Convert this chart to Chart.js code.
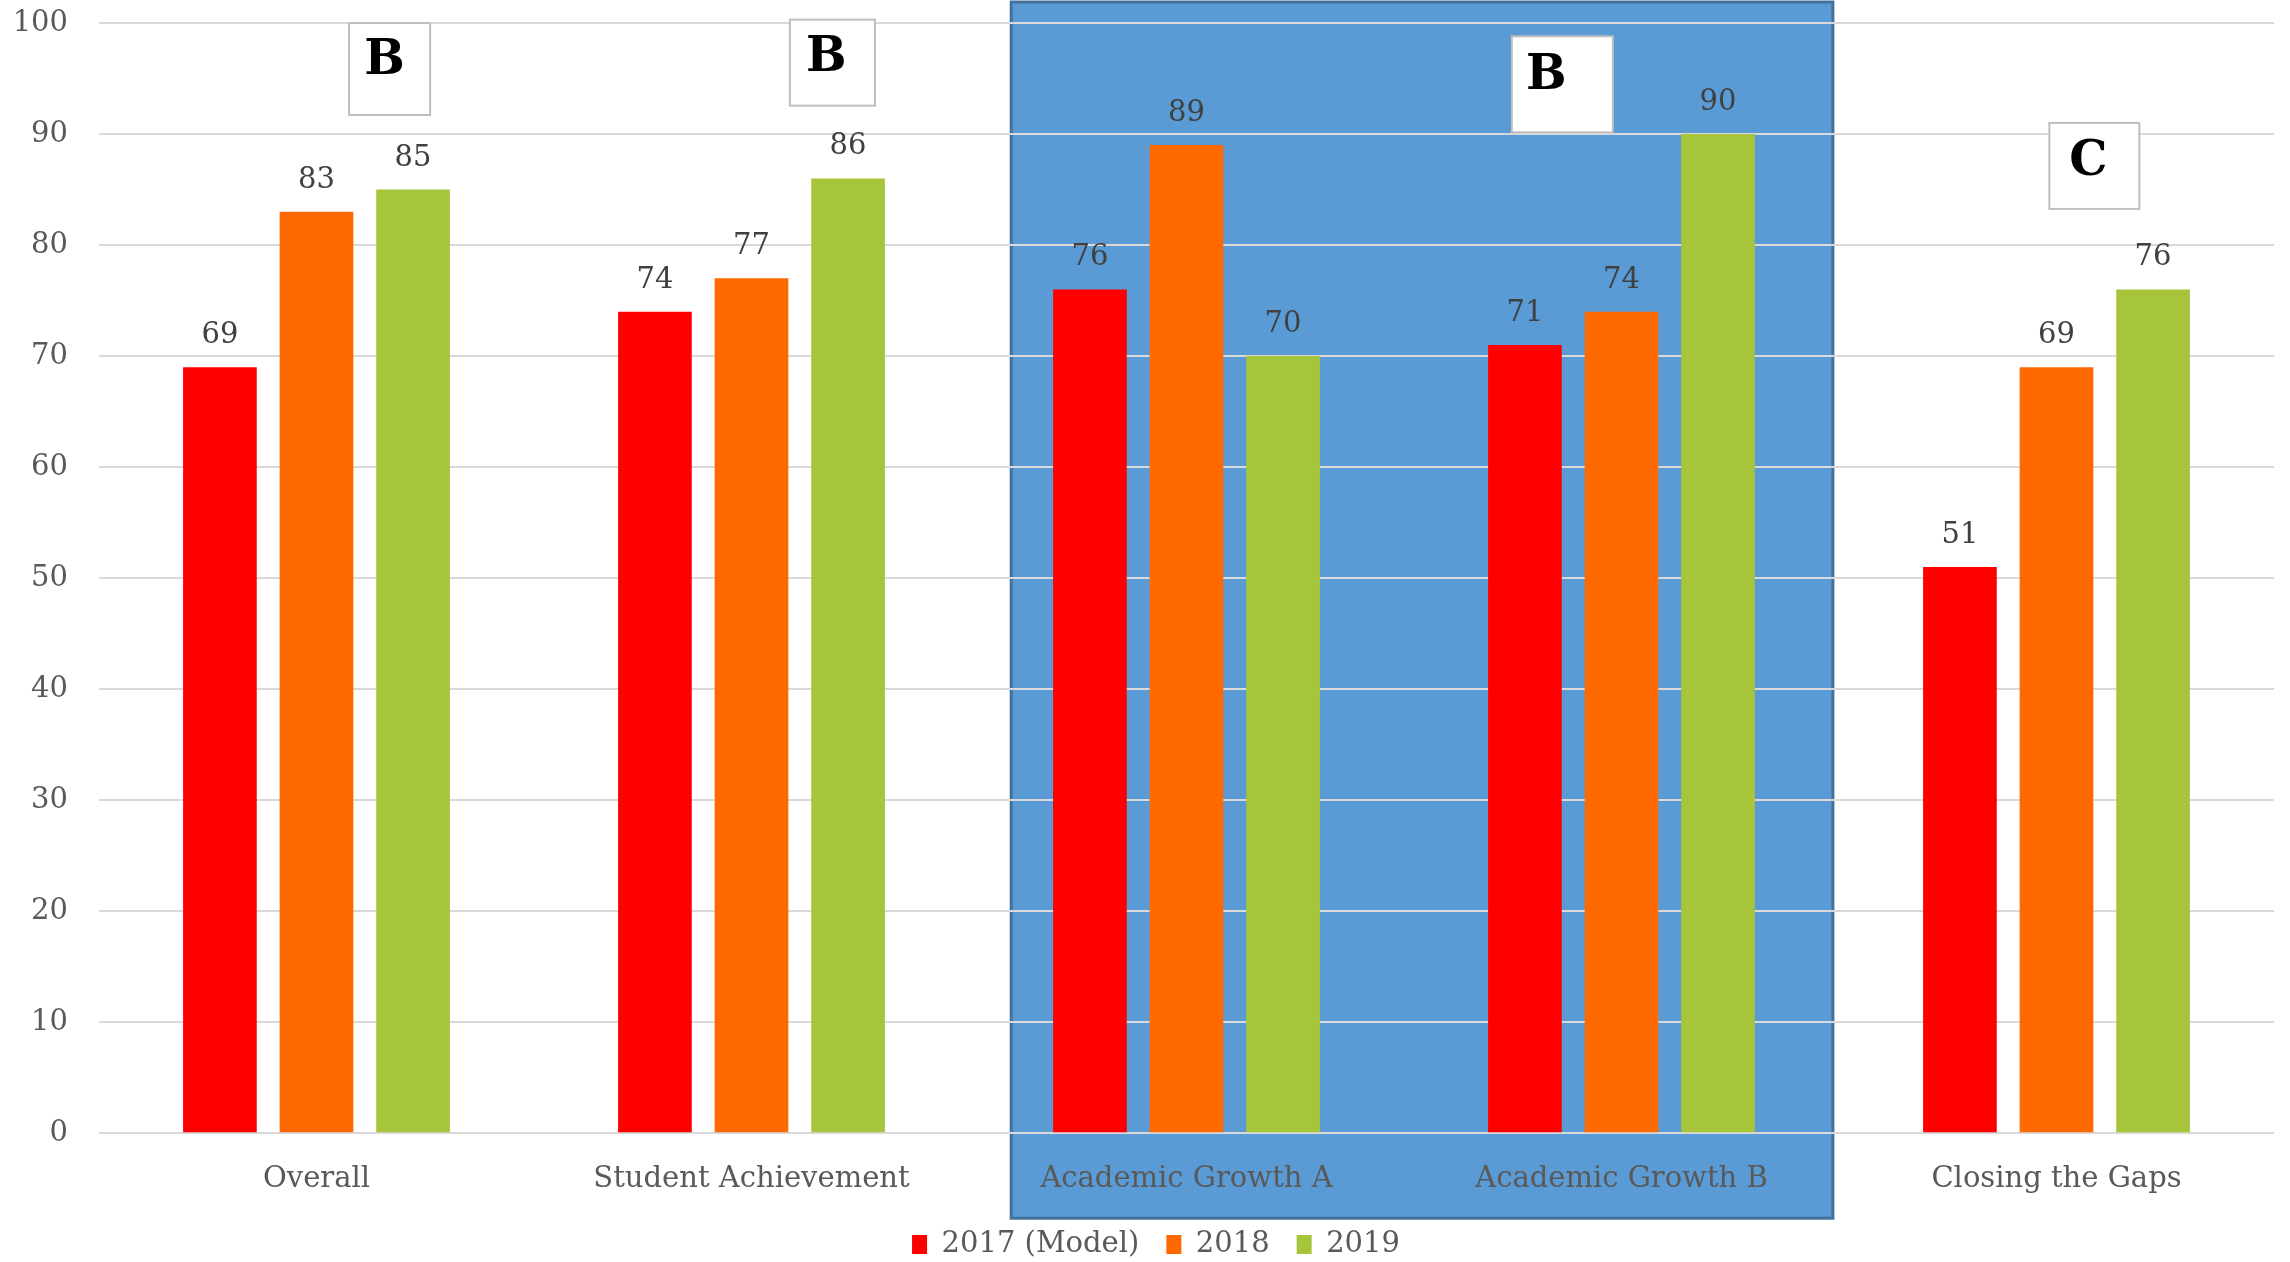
<!DOCTYPE html>
<html>
<head>
<meta charset="utf-8">
<script src="https://cdn.jsdelivr.net/npm/chart.js@4/dist/chart.umd.min.js"></script>
<style>
  body { margin: 0; background: #fff; }
  canvas { display: block; }
</style>
</head>
<body>
<canvas id="chart" width="2290" height="1262"></canvas>
<script>
const categories = ["Overall", "Student Achievement", "Academic Growth A", "Academic Growth B", "Closing the Gaps"];
const seriesNames = ["2017 (Model)", "2018", "2019"];
const values2017 = [69, 74, 76, 71, 51];
const values2018 = [83, 77, 89, 74, 69];
const values2019 = [85, 86, 70, 90, 76];
const yTicks = [0, 10, 20, 30, 40, 50, 60, 70, 80, 90, 100];
const grades = ["B", "B", "B", "C"];

const FONT = "'DejaVu Serif', serif";
const colors = ["#FF0000", "#FF6A00", "#A6C53B"];

// where the grade boxes sit (x in category units, top in value units)
const gradeBoxes = [
  { x: 0.168, top: 100, w: 81, h: 92, dx: -5, dy: -7 },
  { x: 1.186, top: 100.3, w: 85, h: 86, dx: -6, dy: -4 },
  { x: 2.864, top: 98.8, w: 101, h: 96, dx: -16, dy: -8 },
  { x: 4.087, top: 91.0, w: 90, h: 86, dx: -6, dy: -3 },
];

// blue band behind the two academic growth groups
const bandPlugin = {
  id: "band",
  beforeInit(chart) {
    // pull the legend a little closer to the bottom edge
    const fit = chart.legend.fit;
    chart.legend.fit = function () {
      fit.call(this);
      this.height -= 7;
    };
  },
  afterLayout(chart) {
    chart.legend.left += 12;
    chart.legend.right += 12;
  },
  beforeDraw(chart) {
    const { ctx, scales: { x }, chartArea } = chart;
    const catW = x.getPixelForValue(1) - x.getPixelForValue(0);
    const left = x.getPixelForValue(2) - 0.403 * catW;
    const right = x.getPixelForValue(3) + 0.486 * catW;
    const top = chartArea.top - 21;
    const bottom = chartArea.bottom + 85;
    ctx.save();
    ctx.fillStyle = "#5B9BD5";
    ctx.fillRect(left, top, right - left, bottom - top);
    ctx.strokeStyle = "#41719C";
    ctx.lineWidth = 3;
    ctx.strokeRect(left, top, right - left, bottom - top);
    ctx.restore();
  },
};

const valueLabels = {
  id: "valueLabels",
  afterDatasetsDraw(chart) {
    const { ctx } = chart;
    ctx.save();
    ctx.font = "29px " + FONT;
    ctx.fillStyle = "#404040";
    ctx.textAlign = "center";
    ctx.textBaseline = "alphabetic";
    chart.data.datasets.forEach((ds, i) => {
      chart.getDatasetMeta(i).data.forEach((bar, j) => {
        ctx.fillText(ds.data[j], bar.x, bar.y - 24);
      });
    });
    ctx.restore();
  },
};

const gradePlugin = {
  id: "grades",
  afterDraw(chart) {
    const { ctx, scales: { x, y } } = chart;
    ctx.save();
    gradeBoxes.forEach((b, i) => {
      const cx = x.getPixelForValue(b.x);
      const top = y.getPixelForValue(b.top);
      const left = cx - b.w / 2;
      ctx.fillStyle = "#FFFFFF";
      ctx.fillRect(left, top, b.w, b.h);
      ctx.strokeStyle = "#BFBFBF";
      ctx.lineWidth = 2;
      ctx.strokeRect(left, top, b.w, b.h);
      ctx.fillStyle = "#000000";
      ctx.font = "bold 48px " + FONT;
      ctx.textAlign = "center";
      ctx.textBaseline = "middle";
      ctx.fillText(grades[i], cx + b.dx, top + b.h / 2 + b.dy);
    });
    ctx.restore();
  },
};

new Chart(document.getElementById("chart"), {
  type: "bar",
  data: {
    labels: categories,
    datasets: [values2017, values2018, values2019].map((d, i) => ({
      label: seriesNames[i],
      data: d,
      backgroundColor: colors[i],
      categoryPercentage: 0.666,
      barPercentage: 0.763,
    })),
  },
  options: {
    responsive: false,
    animation: false,
    devicePixelRatio: 1,
    layout: { padding: { left: 14, right: 16, top: 23, bottom: 0 } },
    scales: {
      x: {
        grid: { display: false },
        border: { display: false },
        ticks: { font: { family: FONT, size: 29 }, color: "#595959", padding: 21 },
        afterFit(axis) {
          axis.height -= 15;
        },
      },
      y: {
        min: 0,
        max: 100,
        afterBuildTicks(axis) {
          axis.ticks = yTicks.map((v) => ({ value: v }));
        },
        afterFit(axis) {
          axis.width = 85;
          axis.paddingTop = 0;
          axis.paddingBottom = 0;
        },
        grid: { color: "#D9D9D9", lineWidth: 2, drawTicks: false },
        border: { display: false },
        ticks: { font: { family: FONT, size: 29 }, color: "#595959", padding: 31 },
      },
    },
    plugins: {
      legend: {
        position: "bottom",
        labels: {
          boxWidth: 15,
          boxHeight: 19,
          font: { family: FONT, size: 29 },
          color: "#595959",
          padding: 27,
        },
      },
      tooltip: { enabled: false },
    },
  },
  plugins: [bandPlugin, valueLabels, gradePlugin],
});
</script>
</body>
</html>
